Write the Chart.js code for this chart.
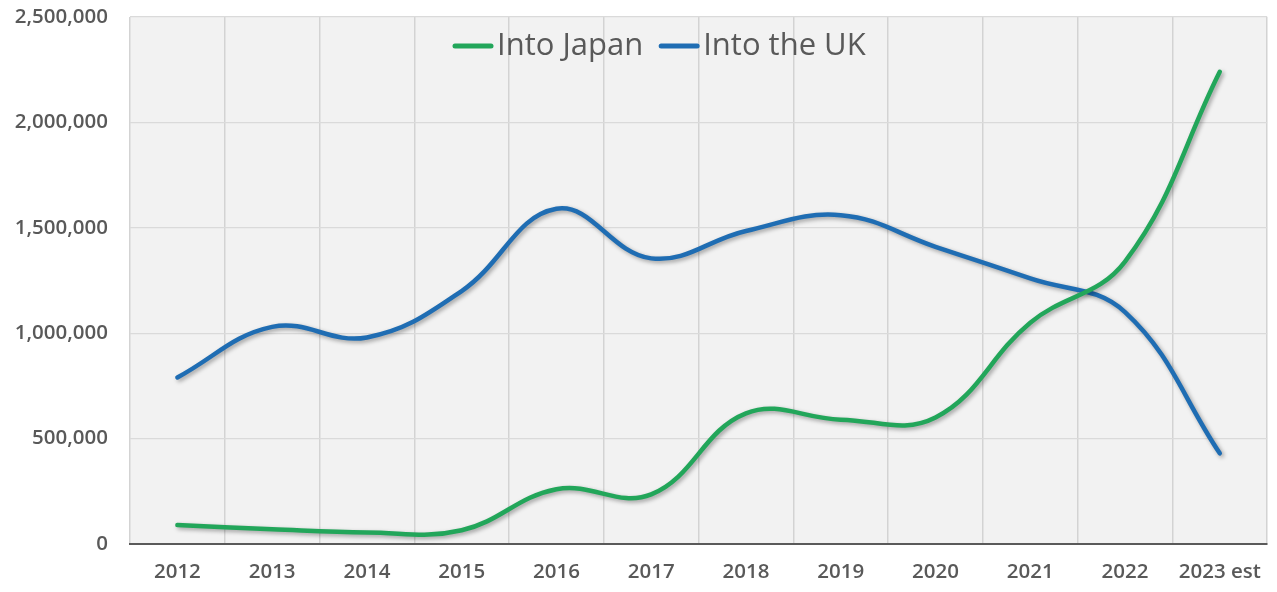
<!DOCTYPE html>
<html>
<head>
<meta charset="utf-8">
<script src="https://cdn.jsdelivr.net/npm/chart.js@4.4.1/dist/chart.umd.min.js"></script>
<style>
html,body{margin:0;padding:0;background:#ffffff;}
#wrap{width:1277px;height:592px;position:relative;}
</style>
</head>
<body>
<div id="wrap"><canvas id="c" width="1277" height="592"></canvas></div>
<script>
const categories = ["2012","2013","2014","2015","2016","2017","2018","2019","2020","2021","2022","2023 est"];
const intoJapan = [90000, 70000, 55000, 65000, 260000, 235000, 620000, 590000, 600000, 1050000, 1340000, 2240000];
const intoUK = [790000, 1030000, 980000, 1200000, 1590000, 1355000, 1485000, 1560000, 1410000, 1260000, 1100000, 430000];
const seriesNames = ["Into Japan", "Into the UK"];
const yTicks = [0, 500000, 1000000, 1500000, 2000000, 2500000];

const GREEN = "#22a65a";
const BLUE = "#1f6db3";
const TEXT = "#595959";

const plotBg = {
  id: "plotBg",
  beforeDraw(chart) {
    const {ctx, chartArea: a} = chart;
    ctx.save();
    ctx.fillStyle = "#f2f2f2";
    ctx.fillRect(a.left, a.top, a.right - a.left, a.bottom - a.top);
    ctx.restore();
  }
};

const shadow = {
  id: "shadow",
  beforeDatasetDraw(chart) {
    const ctx = chart.ctx;
    ctx.save();
    ctx.shadowColor = "rgba(0,0,0,0.35)";
    ctx.shadowBlur = 4;
    ctx.shadowOffsetX = 2;
    ctx.shadowOffsetY = 2;
  },
  afterDatasetDraw(chart) {
    chart.ctx.restore();
  }
};

const legendPlugin = {
  id: "inlineLegend",
  afterDraw(chart) {
    const ctx = chart.ctx;
    ctx.save();
    ctx.font = "31px 'Open Sans'";
    ctx.textBaseline = "middle";
    const lineW = 40, gap = 4, itemGap = 16;
    const items = chart.data.datasets.map(d => ({label: d.label, color: d.borderColor, w: ctx.measureText(d.label).width}));
    let x = 453;
    const y = 46;
    items.forEach((it, i) => {
      if (i) x += itemGap;
      ctx.strokeStyle = it.color;
      ctx.lineWidth = 5;
      ctx.lineCap = "round";
      ctx.beginPath();
      ctx.moveTo(x + 2, y);
      ctx.lineTo(x + lineW - 2, y);
      ctx.stroke();
      x += lineW + gap;
      ctx.fillStyle = TEXT;
      ctx.fillText(it.label, x, y);
      x += it.w;
    });
    ctx.restore();
  }
};

new Chart(document.getElementById("c"), {
  type: "line",
  data: {
    labels: categories,
    datasets: [
      {label: seriesNames[0], data: intoJapan, borderColor: GREEN, backgroundColor: GREEN, borderWidth: 4.5, tension: 0.4, pointRadius: 0, fill: false, borderCapStyle: "round"},
      {label: seriesNames[1], data: intoUK, borderColor: BLUE, backgroundColor: BLUE, borderWidth: 4.5, tension: 0.4, pointRadius: 0, fill: false, borderCapStyle: "round"}
    ]
  },
  options: {
    responsive: false,
    animation: false,
    devicePixelRatio: 1,
    layout: {padding: {top: 17, right: 4, left: 0, bottom: 0}},
    plugins: {legend: {display: false}, tooltip: {enabled: false}},
    scales: {
      x: {
        offset: true,
        grid: {offset: true, color: "#d3d3d3", lineWidth: 1.5, drawTicks: false},
        border: {color: "#5a5a5a", width: 2},
        ticks: {color: TEXT, font: {family: "'Open Sans'", size: 20.5, weight: "600"}, padding: 16, maxRotation: 0, autoSkip: false},
        afterFit(s) { s.height = 48; }
      },
      y: {
        min: 0, max: 2500000,
        afterBuildTicks(s) { s.ticks = yTicks.map(v => ({value: v})); },
        grid: {color: "#dadada", lineWidth: 1.2, drawTicks: false},
        border: {display: false},
        ticks: {color: TEXT, font: {family: "'Open Sans'", size: 20.5, weight: "600"}, padding: 22,
          callback: v => Number(v).toLocaleString("en-US")},
        afterFit(s) { s.width = 130; s.paddingTop = 0; s.paddingBottom = 0; }
      }
    }
  },
  plugins: [plotBg, shadow, legendPlugin]
});
</script>
</body>
</html>
